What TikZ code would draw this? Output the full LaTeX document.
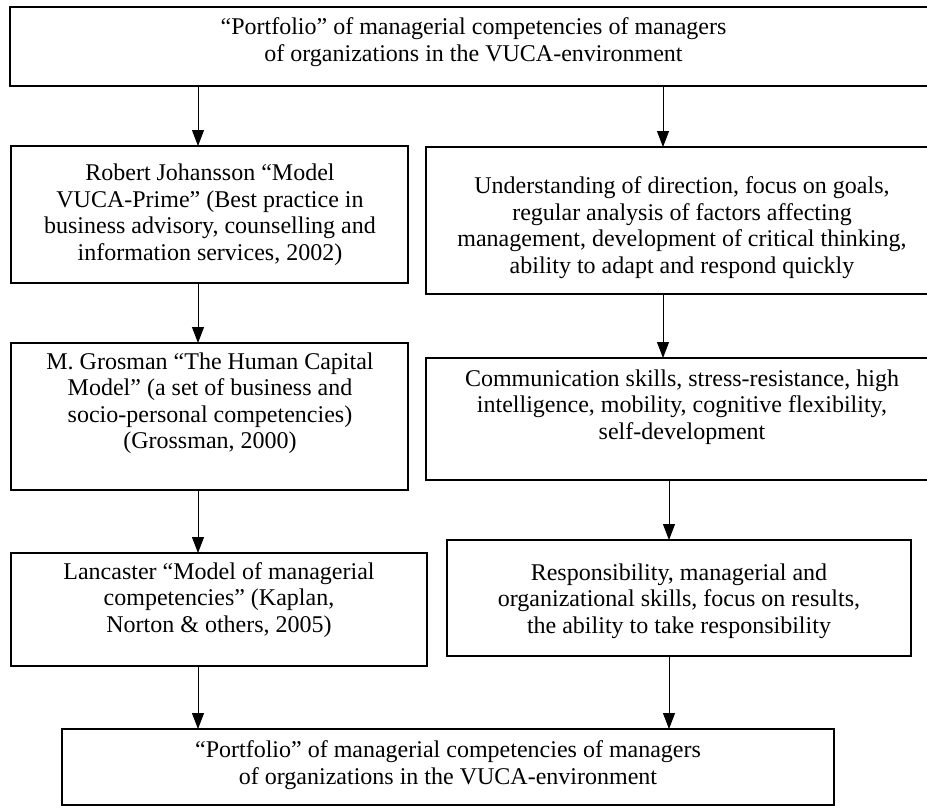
\documentclass[tikz,border=0pt]{standalone}
\usepackage{fontspec}
\setmainfont{Liberation Serif}
\usetikzlibrary{arrows.meta,calc}
\begin{document}
\begin{tikzpicture}[x=1pt,y=-1pt,
  box/.style={draw=black,line width=2.2pt,rectangle,inner sep=0pt,outer sep=0pt},
  txt/.style={align=center,font=\fontsize{24}{26.5}\selectfont,inner sep=0pt},
  arr/.style={line width=0.9pt,-{Triangle[length=16pt,width=12pt]}}]
\useasboundingbox (0,0) rectangle (927,809);
\clip (0,0) rectangle (927,809);
% boxes
\node[box,minimum width=927pt,minimum height=79pt] (t) at (473.5,46.5) {};
\node[box,minimum width=397pt,minimum height=137pt] (l1) at (209.5,214.5) {};
\node[box,minimum width=512pt,minimum height=147pt] (r1) at (682,220.5) {};
\node[box,minimum width=397pt,minimum height=147pt] (l2) at (209.5,416.5) {};
\node[box,minimum width=512pt,minimum height=122pt] (r2) at (682,419) {};
\node[box,minimum width=416pt,minimum height=113pt] (l3) at (219,609.5) {};
\node[box,minimum width=464pt,minimum height=116pt] (r3) at (679,598) {};
\node[box,minimum width=772pt,minimum height=76pt] (b) at (448,767) {};
% texts
\node[txt] (tt) at (473.5,42) {“Portfolio” of managerial competencies of managers\\of organizations in the VUCA-environment};
\node[txt] (l1t) at (210,214.5) {Robert Johansson “Model\\VUCA-Prime” (Best practice in\\business advisory, counselling and\\information services, 2002)};
\node[txt] (r1t) at (682,227.5) {Understanding of direction, focus on goals,\\regular analysis of factors affecting\\management, development of critical thinking,\\ability to adapt and respond quickly};
\node[txt] (l2t) at (210,403) {M. Grosman “The Human Capital\\Model” (a set of business and\\socio-personal competencies)\\(Grossman, 2000)};
\node[txt] (r2t) at (682,407) {Communication skills, stress-resistance, high\\intelligence, mobility, cognitive flexibility,\\self-development};
\node[txt] (l3t) at (219,600) {Lancaster “Model of managerial\\competencies” (Kaplan,\\Norton \& others, 2005)};
\node[txt] (r3t) at (679,601) {Responsibility, managerial and\\organizational skills, focus on results,\\the ability to take responsibility};
\node[txt] (bt) at (448,765) {“Portfolio” of managerial competencies of managers\\of organizations in the VUCA-environment};
% connector columns
\coordinate (ax) at (198,0);
\coordinate (bx) at (663,0);
\coordinate (cx) at (669,0);
% connectors
\draw[arr] (t.south -| ax) -- (l1.north -| ax);
\draw[arr] (l1.south -| ax) -- (l2.north -| ax);
\draw[arr] (l2.south -| ax) -- (l3.north -| ax);
\draw[arr] (l3.south -| ax) -- (b.north -| ax);
\draw[arr] (t.south -| bx) -- (r1.north -| bx);
\draw[arr] (r1.south -| bx) -- (r2.north -| bx);
\draw[arr] (r2.south -| cx) -- (r3.north -| cx);
\draw[arr] (r3.south -| cx) -- (b.north -| cx);
\end{tikzpicture}
\end{document}
